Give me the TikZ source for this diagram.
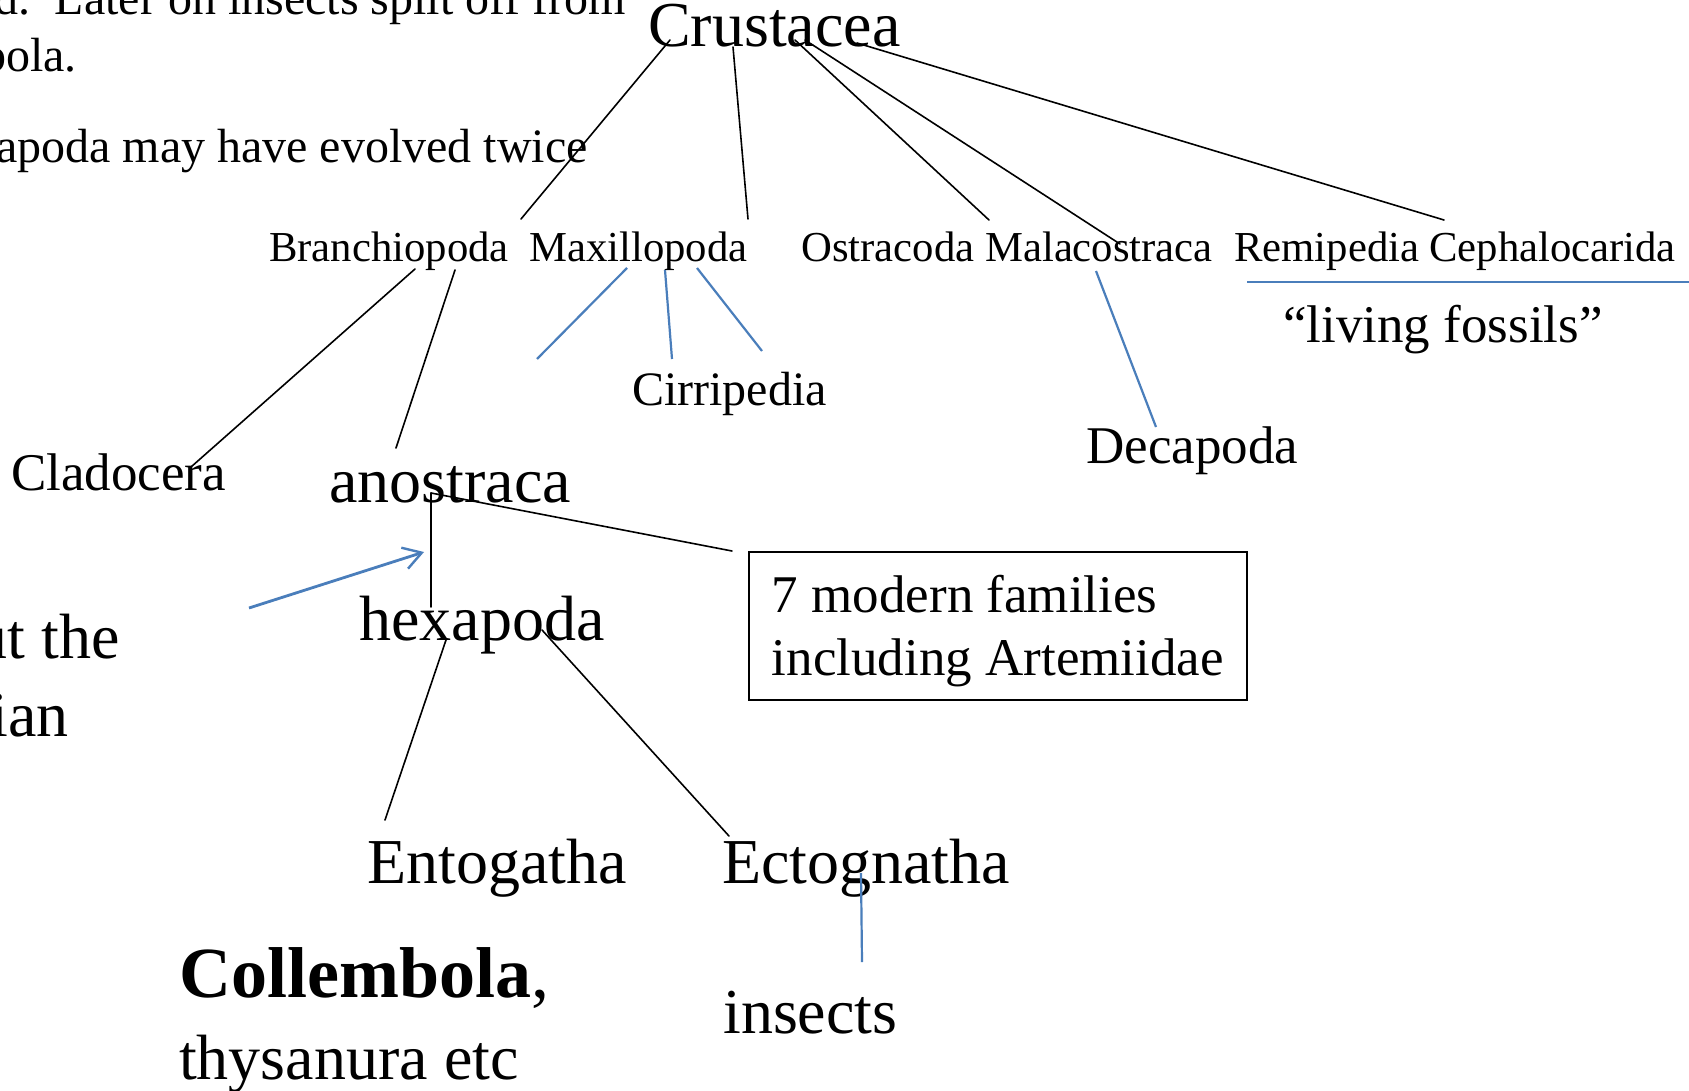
\documentclass[tikz,border=0pt]{standalone}
\usepackage{fontspec}
\setmainfont{Liberation Serif}
\definecolor{slideblue}{HTML}{4A7EBB}
\usetikzlibrary{arrows.meta}

\tikzset{
  big/.style={font=\fontsize{64}{77}\selectfont, inner sep=0pt, anchor=base west},
  mid/.style={font=\fontsize{53}{63}\selectfont, inner sep=0pt, anchor=base west},
  small/.style={font=\fontsize{42.7}{51}\selectfont, inner sep=0pt, anchor=base west},
  note/.style={font=\fontsize{48}{58}\selectfont, inner sep=0pt, anchor=base east},
  branch/.style={line width=1.6pt, line cap=round},
  blueline/.style={draw=slideblue, line width=2.2pt},
}

\begin{document}
\begin{tikzpicture}[x=1pt, y=-1pt]
  \path[fill=white, use as bounding box] (0,0) rectangle (1689,1091);
  \clip (0,0) rectangle (1689,1091);

  % Text cut off at the left edge of the slide
  \node[note] (noteA) at (626,15) {d.\ \ Later on insects split off from};
  \node[note] (noteB) at (77,72) {bola.};
  \node[note] (noteC) at (588,163) {apoda may have evolved twice};
  \node[note, font=\fontsize{64}{77}\selectfont] (noteD) at (120,658) {ut the};
  \node[note, font=\fontsize{64}{77}\selectfont] (noteE) at (69,736) {ian};

  % Top of the tree
  \node[big] (crust) at (648,47) {Crustacea};

  % Classes
  \node[small] (branchio) at (269,262) {Branchiopoda};
  \node[small] (maxillo) at (529,262) {Maxillopoda};
  \node[small] (ostra) at (801,262) {Ostracoda};
  \node[small] (malaco) at (985,262) {Malacostraca};
  \node[small] (remi) at (1234,262) {Remipedia};
  \node[small] (ceph) at (1429,262) {Cephalocarida};

  % Lower groups
  \node[small, font=\fontsize{48}{58}\selectfont] (cirri) at (632,405) {Cirripedia};
  \node[mid] (decapoda) at (1086,463) {Decapoda};
  \node[mid] (fossils) at (1283,342) {“living fossils”};
  \node[mid] (clado) at (11,490) {Cladocera};
  \node[big] (anos) at (329,502) {anostraca};
  \node[big] (hexa) at (359,640) {hexapoda};
  \node[draw, line width=1.6pt, anchor=north west, inner sep=0pt,
        minimum width=498pt, minimum height=148pt, align=left,
        font=\fontsize{53}{63}\selectfont] (box) at (748,551)
        {\rule{0pt}{48pt}7 modern families\\including Artemiidae};
  \node[big] (ento) at (367,883) {Entogatha};
  \node[big] (ecto) at (722,883) {Ectognatha};
  \node[big] (insects) at (723,1033) {insects};
  \node[inner sep=0pt, anchor=base west, font=\fontsize{72}{82}\selectfont] (collem) at (179,997)
        {\textbf{Collembola},};
  \node[big] (thys) at (179,1079) {thysanura etc};

  % Free ends
  \coordinate (stubA) at (537,359);
  \coordinate (stubC) at (762,351);
  \coordinate (tail) at (249,608);

  % Crustacea to classes
  \draw[branch] ([shift={(22,-7)}]crust.base west) -- ([shift={(252,-43)}]branchio.base west);
  \draw[branch] ([shift={(85,0)}]crust.base west) -- ([shift={(219,-43)}]maxillo.base west);
  \draw[branch] ([shift={(147,-7)}]crust.base west) -- ([shift={(188,-42)}]ostra.base west);
  \draw[branch] ([shift={(157,-7)}]crust.base west) -- ([shift={(135,-18)}]malaco.base west);
  \draw[branch] ([shift={(209,-4)}]crust.base west) -- ([shift={(15,-42)}]ceph.base west);

  % Branchiopoda
  \draw[branch] ([shift={(146,7)}]branchio.base west) -- ([shift={(180,-23)}]clado.base west);
  \draw[branch] ([shift={(186,8)}]branchio.base west) -- ([shift={(67,-54)}]anos.base west);

  % Maxillopoda
  \draw[blueline] ([shift={(98,6)}]maxillo.base west) -- (stubA);
  \draw[blueline] ([shift={(136,8)}]maxillo.base west) -- ([shift={(40,-46)}]cirri.base west);
  \draw[blueline] ([shift={(168,6)}]maxillo.base west) -- (stubC);

  % Malacostraca
  \draw[blueline] ([shift={(111,9)}]malaco.base west) -- ([shift={(70,-36)}]decapoda.base west);

  % living fossils
  \draw[blueline] ([shift={(13,20)}]remi.base west) -- ([shift={(13,20)}]ceph.base east);

  % anostraca
  \draw[branch] ([shift={(102,-9)}]anos.base west) -- ([shift={(72,-33)}]hexa.base west);
  \draw[branch] ([shift={(102,-9)}]anos.base west) -- ([xshift=-16pt]box.north west);
  \draw[slideblue, line width=2.8pt, -{Straight Barb[length=18pt, width=22pt, line width=2.4pt]}]
    (tail) -- ([shift={(95,50)}]anos.base west);

  % hexapoda
  \draw[branch] ([shift={(87,0)}]hexa.base west) -- ([shift={(18,-63)}]ento.base west);
  \draw[branch] ([shift={(183,-10)}]hexa.base west) -- ([shift={(7,-47)}]ecto.base west);
  \draw[blueline] ([shift={(139,-10)}]ecto.base west) -- ([shift={(139,-71)}]insects.base west);
\end{tikzpicture}
\end{document}
